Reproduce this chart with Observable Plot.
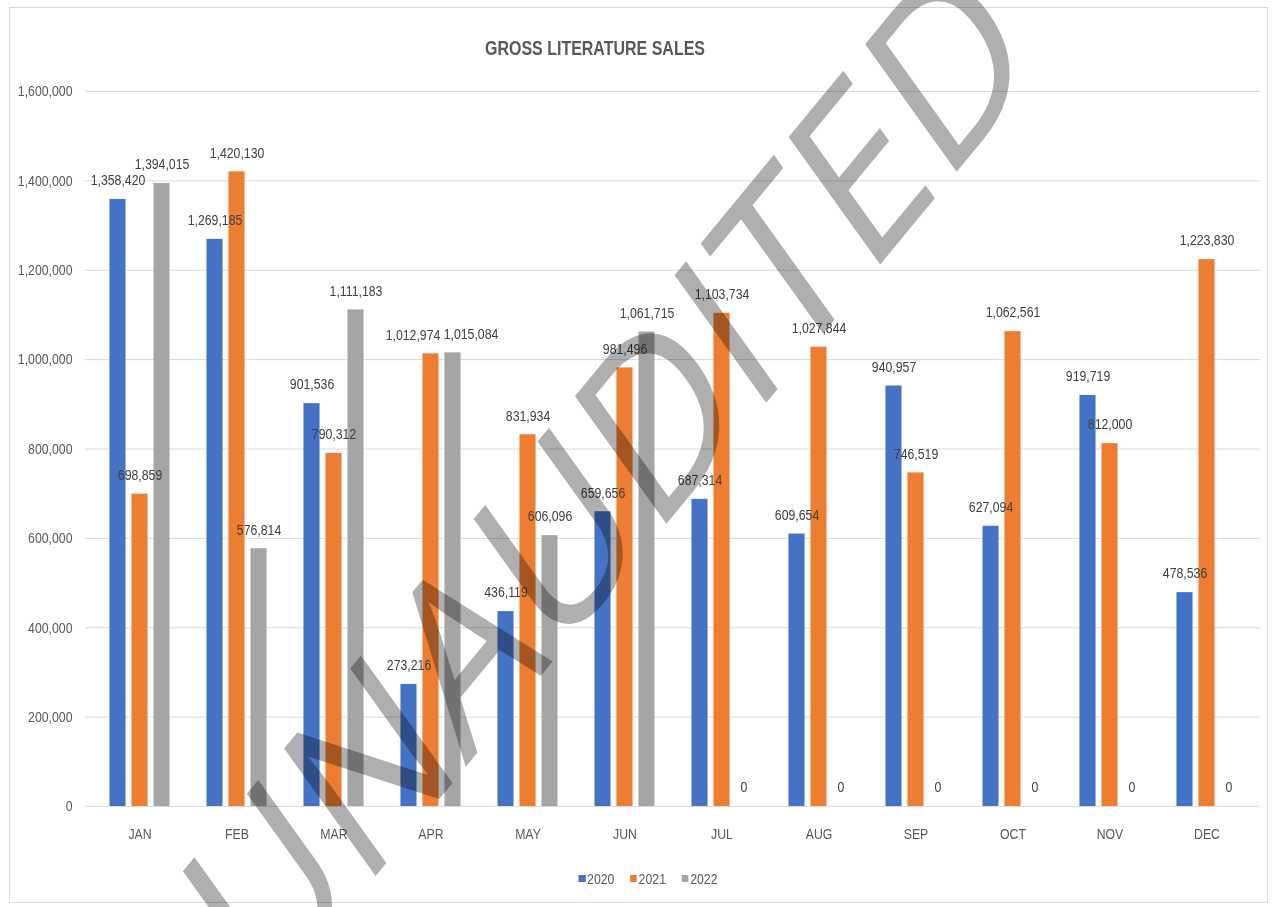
<!DOCTYPE html>
<html>
<head>
<meta charset="utf-8">
<script src="https://cdn.jsdelivr.net/npm/d3@7"></script>
<script src="https://cdn.jsdelivr.net/npm/@observablehq/plot@0.6"></script>
<style>
  html, body { margin: 0; padding: 0; background: #fff; }
  #wrap { position: relative; width: 1273px; height: 907px; overflow: hidden; background: #fff; }
  #frame { position: absolute; left: 9px; top: 7px; width: 1259px; height: 896px; border: 1px solid #d9d9d9; box-sizing: border-box; }
  #chart { position: absolute; left: 0; top: 0; }
  #title { position: absolute; top: 37px; left: 595px; transform: translateX(-50%) scaleX(0.82); white-space: nowrap;
           font-family: 'Liberation Sans', Arial, sans-serif; font-weight: bold; font-size: 19.5px; color: #595959; }
  #legend { position: absolute; top: 870px; left: 648px; transform: translateX(-50%) scaleX(0.82); display: flex; gap: 19px; white-space: nowrap;
            font-family: 'Liberation Sans', Arial, sans-serif; font-size: 15px; color: #595959; }
  #legend span.item { display: flex; align-items: center; gap: 2px; }
  #legend span.sw { display: inline-block; width: 8.5px; height: 7px; }
</style>
</head>
<body>
<div id="wrap">
  <div id="frame"></div>
  <div id="chart"></div>
  <div id="title">GROSS LITERATURE SALES</div>
  <div id="legend"></div>
</div>
<script>
const months = ["JAN","FEB","MAR","APR","MAY","JUN","JUL","AUG","SEP","OCT","NOV","DEC"];
const years = ["2020","2021","2022"];
const sales2020 = [1358420, 1269185, 901536, 273216, 436119, 659656, 687314, 609654, 940957, 627094, 919719, 478536];
const sales2021 = [698859, 1420130, 790312, 1012974, 831934, 981496, 1103734, 1027844, 746519, 1062561, 812000, 1223830];
const sales2022 = [1394015, 576814, 1111183, 1015084, 606096, 1061715, 0, 0, 0, 0, 0, 0];
const yTicks = [0, 200000, 400000, 600000, 800000, 1000000, 1200000, 1400000, 1600000];
const colors = ["#4472C4", "#ED7D31", "#A5A5A5"];
const watermark = "UNAUDITED";

const series = [sales2020, sales2021, sales2022].map(vals => months.map((m, i) => ({month: m, value: vals[i]})));

const W = 1273, H = 907;
const mL = 85, mR = 13, mT = 91, mB = 101;
const bw = (W - mL - mR) / months.length;
const barW = 17, step = 22;
const fmt = d3.format(",");
const pxPerUnit = (H - mT - mB) / 1600000;
const labelW = 55; // approx label width in px

// adjacent labels at nearly the same height are pushed apart (as the source chart does)
function nudge(k, i) {
  const v = series[k][i].value;
  let s = 0;
  for (const j of [k - 1, k + 1]) {
    if (j < 0 || j > 2) continue;
    const w = series[j][i].value;
    if (Math.abs(v - w) * pxPerUnit < 13 && v > 0 && w > 0) s += (j < k ? 1 : -1) * (labelW + 3 - step) / 2;
  }
  return s;
}

const marks = [Plot.ruleY(yTicks, {stroke: "#d9d9d9", strokeWidth: 1})];
series.forEach((data, k) => {
  const off = (k - 1) * step;
  const left = bw / 2 + off - barW / 2;
  marks.push(Plot.barY(data, {x: "month", y: "value", fill: colors[k], insetLeft: left, insetRight: bw - left - barW}));
});
series.forEach((data, k) => {
  const off = (k - 1) * step;
  const groups = d3.group(data.map((d, i) => ({...d, n: nudge(k, i)})), d => d.n);
  for (const [n, rows] of groups) {
    marks.push(Plot.text(rows, {x: "month", y: "value", text: d => fmt(d.value), dx: off + n, dy: -19, fill: "#404040", lineAnchor: "middle"}));
  }
});
marks.push(Plot.text([watermark], {frameAnchor: "middle", fontSize: 188, lineAnchor: "middle",
  fontFamily: "'Open Sans', sans-serif", fill: "#afafaf", mixBlendMode: "multiply", text: d => d}));

const chart = Plot.plot({
  width: W, height: H,
  marginLeft: mL, marginRight: mR, marginTop: mT, marginBottom: mB,
  style: {fontFamily: "'Liberation Sans', Arial, sans-serif", fontSize: "15px", color: "#595959", background: "transparent", overflow: "visible"},
  x: {type: "band", domain: months, padding: 0, tickSize: 0, tickPadding: 22, label: null},
  y: {domain: [0, 1600000], ticks: yTicks, tickFormat: d3.format(","), tickSize: 0, tickPadding: 13, label: null},
  marks
});
document.getElementById("chart").appendChild(chart);

// emulate the narrow (Calibri-like, horizontally squeezed) lettering around each label's anchor
d3.select(chart).selectAll("text").each(function() {
  if (this.textContent === watermark) {
    // the source watermark is skewed by the squeezed screenshot: rotate then stretch vertically
    this.removeAttribute("x");
    this.removeAttribute("y");
    this.setAttribute("transform", "translate(652,540) scale(1,1.3) rotate(-43)");
    return;
  }
  const t = this.getAttribute("transform") || "";
  const x = +(this.getAttribute("x") || 0);
  this.setAttribute("transform", `${t} translate(${x},0) scale(0.82,1) translate(${-x},0)`);
});

const legend = document.getElementById("legend");
years.forEach((y, k) => {
  const item = document.createElement("span");
  item.className = "item";
  const sw = document.createElement("span");
  sw.className = "sw";
  sw.style.background = colors[k];
  item.appendChild(sw);
  item.appendChild(document.createTextNode(y));
  legend.appendChild(item);
});
</script>
</body>
</html>
